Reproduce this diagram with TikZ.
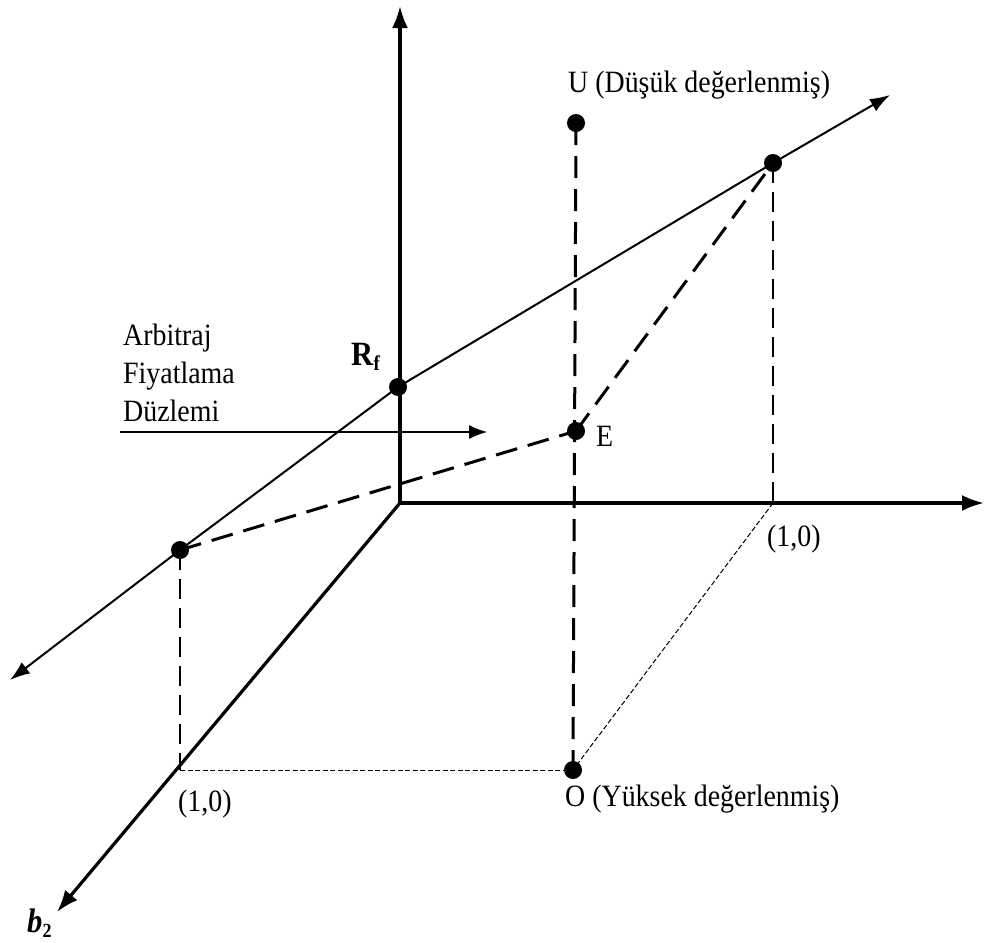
\documentclass[tikz,border=0pt]{standalone}
\usepackage{fontspec}
\setmainfont{Liberation Serif}[FakeStretch=0.9]
\usetikzlibrary{arrows.meta}
\begin{document}
\begin{tikzpicture}[x=1pt,y=-1pt,
  axis/.style={line width=3.2pt,-{Latex[length=22pt,width=16pt]}},
  planeline/.style={line width=2pt},
  dot/.style={circle,fill=black,inner sep=0pt,minimum size=18pt},
  bigdash/.style={line width=3pt,dash pattern=on 22pt off 11pt},
  middash/.style={line width=2pt,dash pattern=on 20pt off 9pt},
  finedash/.style={line width=1pt,dash pattern=on 5pt off 2.5pt},
  lbl/.style={font=\fontsize{31}{38}\selectfont,inner sep=0pt}]
\useasboundingbox (0,0) rectangle (986,943);
% axes
\coordinate (ax0) at (400,503);
\coordinate (axup) at (400,6);
\coordinate (axright) at (984,503);
\coordinate (axb) at (57,912);
\draw[axis] (ax0) -- (axup);
\draw[axis] (ax0) -- (axright);
\draw[axis] (ax0) -- (axb);
% points
\node[dot] (Rf) at (398,387) {};
\node[dot] (L) at (180,550) {};
\node[dot] (R) at (773,163) {};
\node[dot] (U) at (576,123) {};
\node[dot] (E) at (576,431) {};
\node[dot] (O) at (573,770) {};
\coordinate (ll) at (10,680);
\coordinate (ur) at (890,95);
\coordinate (Rb) at (773,503);
\coordinate (Lb) at (180,770);
% plane line
\draw[planeline,-{Latex[length=20pt,width=14pt]}] (Rf.center) -- (L.center) -- (ll);
\draw[planeline,-{Latex[length=20pt,width=14pt]}] (Rf.center) -- (R.center) -- (ur);
% dashed lines
\draw[bigdash] (U.center) -- (O.center);
\draw[bigdash] (L.center) -- (E.center);
\draw[bigdash] (E.center) -- (R.center);
\draw[middash] (R.center) -- (Rb);
\draw[middash] (L.center) -- (Lb);
\draw[finedash] (Rb) -- (O.center);
\draw[finedash] (Lb) -- (O.center);
% arbitrage arrow
\coordinate (arrS) at (120,432);
\coordinate (arrE) at (487,432);
\draw[line width=1.2pt,-{Latex[length=18pt,width=14pt]}] (arrS) -- (arrE);
% labels
\node[lbl,anchor=base west] (tA1) at (123,345) {Arbitraj};
\node[lbl,anchor=base west] (tA2) at (123,383) {Fiyatlama};
\node[lbl,anchor=base west] (tA3) at (123,421) {Düzlemi};
\node[lbl,anchor=base west] (tRf) at (351,365) {\fontsize{34}{34}\selectfont\textbf{R}\raisebox{-5pt}{\fontsize{21}{21}\selectfont\textbf{f}}};
\node[lbl,anchor=base west] (tU) at (568,92) {U (Düşük değerlenmiş)};
\node[lbl,anchor=base west] (tE) at (596,446) {E};
\node[lbl,anchor=base west] (t10r) at (767,546) {(1,0)};
\node[lbl,anchor=base west] (t10l) at (178,811) {(1,0)};
\node[lbl,anchor=base west] (tO) at (565,806) {O (Yüksek değerlenmiş)};
\node[lbl,anchor=base west] (tb) at (27,932) {\fontsize{34}{34}\selectfont\textbf{\textit{b}}\raisebox{-5pt}{\fontsize{20}{20}\selectfont\textbf{2}}};
\end{tikzpicture}
\end{document}
